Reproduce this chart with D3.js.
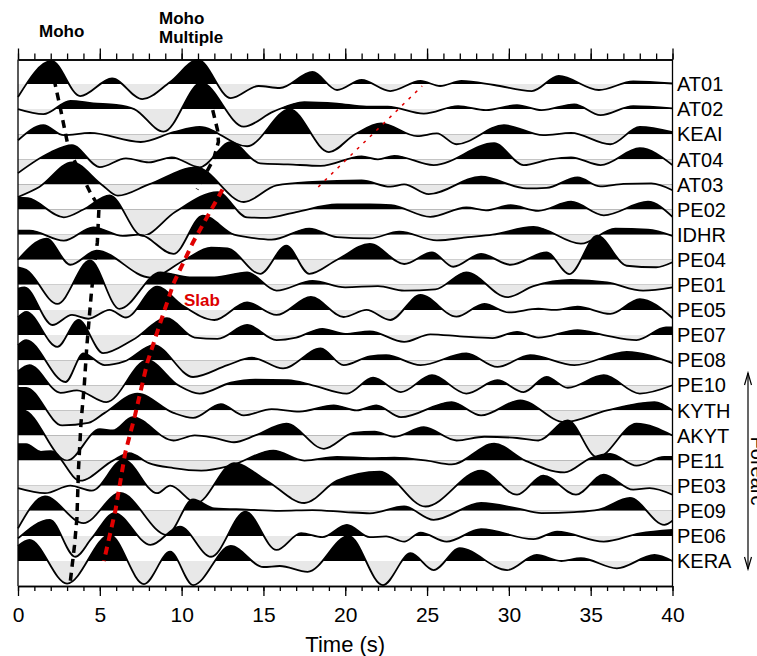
<!DOCTYPE html>
<html>
<head>
<meta charset="utf-8">
<script src="https://cdn.jsdelivr.net/npm/d3@7"></script>
<style>
  body { margin: 0; background: #fff; }
  text { font-family: "Liberation Sans", Arial, sans-serif; }
</style>
</head>
<body>
<div id="chart"></div>
<script>
// Station names, top to bottom
var stations = ["AT01", "AT02", "KEAI", "AT04", "AT03", "PE02", "IDHR", "PE04", "PE01", "PE05",
  "PE07", "PE08", "PE10", "KYTH", "AKYT", "PE11", "PE03", "PE09", "PE06", "KERA"];

// Receiver function traces: [time (s), normalised amplitude] at the peaks and troughs
var at01 = [[0,-0.52],[2.05,0.92],[3.8,-0.48],[5.75,0.22],[7.6,-0.6],[9.3,0.08],[11.0,0.96],[13.0,-0.56],[14.7,-0.08],[16.0,-0.16],[18.0,0.48],[19.5,-0.24],[21.0,0.16],[22.75,-0.28],[24.6,0.12],[25.8,-0.08],[27.1,0.12],[29.1,-0.04],[31.4,-0.28],[33.05,0.32],[35.5,-0.24],[37.6,0.1],[40,0.02]];
var at02 = [[0,0.0],[1.55,-0.2],[3.2,0.33],[4.6,0.23],[6.0,0.17],[7.1,0.0],[8.9,-0.9],[11.2,1.05],[13.8,-0.7],[15.6,-0.1],[17.5,0.28],[19.5,0.22],[21.3,0.1],[22.6,0.1],[24.8,-0.18],[26.9,0.12],[28.6,-0.04],[30.5,0.16],[32.0,-0.04],[34.0,0.19],[35.6,-0.24],[37.6,0.12],[40,0.03]];
var keai = [[0,-0.24],[1.55,0.36],[2.8,-0.04],[4.4,0.05],[7.5,-0.31],[9.5,0.08],[11.1,0.29],[14.0,-0.48],[16.6,1.0],[19.0,-0.71],[20.6,0.0],[22.2,0.43],[24.4,-0.08],[25.6,0.03],[26.8,-0.4],[29.7,0.36],[32.1,-0.04],[33.8,0.05],[36.2,-0.4],[38.0,0.29],[40,0.08]];
var at04 = [[0,-0.55],[2.0,0.28],[3.3,0.56],[5.0,-0.31],[6.6,0.04],[8.0,-0.12],[9.4,0.08],[11.1,-0.32],[13.0,0.68],[14.8,-0.16],[16.5,-0.2],[18.5,-0.26],[21.0,0.12],[22.0,0.0],[23.0,0.14],[25.4,-0.23],[29.1,0.64],[30.9,-0.23],[32.5,0.0],[33.8,0.08],[35.6,-0.23],[38.0,0.44],[40,-0.23]];
var at03 = [[0,-0.5],[1.3,-0.1],[3.3,0.88],[5.1,0.0],[6.1,-0.45],[8.0,0.0],[10.9,0.68],[13.8,-0.7],[15.8,-0.04],[18.0,0.1],[21.0,0.16],[22.75,-0.09],[23.6,0.0],[25.1,-0.39],[28.3,0.31],[31.1,-0.16],[32.3,-0.14],[34.2,0.28],[35.6,-0.08],[37.0,0.02],[38.7,0.04],[40,-0.23]];
var pe02 = [[0,0.47],[0.6,0.45],[2.8,-0.31],[4.0,0.0],[5.6,0.56],[7.6,-1.05],[9.6,-0.1],[12.2,0.69],[14.0,-0.31],[15.2,-0.33],[17.0,-0.1],[19.5,0.2],[21.5,0.2],[22.8,0.17],[25.2,-0.29],[27.4,0.08],[28.6,-0.03],[30.1,0.17],[31.8,-0.05],[33.8,0.31],[35.8,-0.23],[38.5,0.31],[40,-0.29]];
var idhr = [[0,0.16],[0.7,0.16],[2.8,-0.24],[4.6,0.29],[6.4,-0.05],[7.4,0.0],[9.5,-0.77],[11.3,0.76],[13.2,0.0],[14.0,-0.1],[15.5,-0.2],[17.8,0.24],[19.5,-0.1],[21.5,-0.15],[23.3,0.12],[25.6,-0.23],[27.5,-0.1],[29.0,0.0],[31.5,0.31],[34.4,-0.36],[36.5,0.24],[38.5,0.2],[40,-0.05]];
var pe04 = [[0,0.0],[1.75,0.84],[3.2,-0.2],[4.8,0.36],[8.1,-0.71],[10.2,0.0],[11.8,0.48],[12.8,0.45],[14.8,-0.56],[16.4,0.56],[17.8,-0.56],[19.5,0.0],[21.5,0.63],[23.6,-0.17],[25.3,0.29],[26.6,-0.28],[28.3,0.23],[30.1,-0.2],[32.3,0.29],[33.7,-0.57],[35.4,0.96],[37.2,-0.24],[39.0,-0.3],[40,-0.1]];
var pe01 = [[0,0.7],[0.5,0.6],[2.4,-0.76],[4.4,0.97],[6.2,-0.96],[8.7,0.5],[10.5,0.3],[12.0,0.3],[14.0,0.5],[15.8,-0.23],[18.0,0.16],[20.0,-0.1],[22.0,-0.05],[23.6,-0.23],[25.5,-0.18],[27.4,0.5],[29.9,-0.49],[31.5,-0.05],[33.8,0.2],[36.0,0.1],[38.2,-0.23],[40,-0.1]];
var pe05 = [[0,0.85],[0.4,0.9],[2.1,-0.6],[3.3,-0.2],[4.3,-0.35],[5.6,0.0],[6.6,-0.3],[8.5,0.93],[10.0,0.2],[12.0,-0.4],[14.0,0.3],[15.8,-0.2],[17.9,0.52],[19.9,-0.28],[21.3,0.0],[22.75,-0.4],[24.6,0.6],[26.8,-0.27],[28.5,0.24],[30.0,-0.1],[31.8,0.05],[32.8,0.0],[34.2,0.13],[36.2,-0.16],[38.0,0.43],[40,-0.32]];
var pe07 = [[0,0.7],[0.5,0.92],[2.4,-0.47],[3.7,0.6],[5.2,-0.72],[7.0,-0.2],[9.1,0.67],[10.8,-0.1],[12.2,-0.15],[14.0,0.4],[15.8,-0.2],[17.0,-0.1],[18.6,0.25],[20.0,0.05],[21.5,0.15],[23.6,-0.27],[25.2,0.03],[27.0,-0.05],[29.0,-0.12],[30.5,0.13],[31.8,-0.1],[34.2,0.2],[35.8,0.0],[37.8,-0.2],[39.6,0.3],[40,0.3]];
var pe08 = [[0,0.6],[0.5,0.8],[2.9,-0.87],[4.0,0.27],[5.3,-0.2],[6.5,-0.05],[8.3,0.6],[10.7,-0.67],[12.8,-0.2],[14.3,0.1],[16.2,-0.33],[18.5,0.47],[19.9,-0.2],[21.5,0.15],[22.5,0.2],[24.6,-0.2],[27.4,0.27],[29.3,-0.27],[31.3,0.2],[34.0,-0.2],[37.2,0.33],[40,-0.12]];
var pe10 = [[0,0.55],[0.7,0.8],[2.6,-0.3],[3.6,-0.2],[5.4,-0.67],[7.9,1.0],[9.8,0.0],[11.1,-0.33],[13.0,0.1],[14.5,0.22],[16.5,0.2],[18.0,0.0],[20.1,-0.33],[21.7,0.3],[23.4,-0.27],[25.3,0.4],[27.4,-0.33],[29.3,0.2],[30.9,-0.27],[32.3,0.33],[33.6,-0.1],[35.8,0.4],[38.0,-0.33],[40,0.0]];
var kyth = [[0,0.9],[0.5,0.9],[2.7,-0.6],[4.3,-0.5],[5.3,-0.1],[7.3,0.67],[9.5,-0.1],[10.7,-0.3],[12.4,0.25],[13.8,-0.2],[15.5,0.05],[17.2,-0.05],[19.3,0.2],[20.7,0.0],[21.9,0.2],[23.4,-0.27],[26.5,0.33],[28.3,-0.2],[30.7,0.4],[33.4,-0.47],[36.0,0.0],[38.9,0.33],[40,0.0]];
var akyt = [[0,1.0],[0.3,1.0],[3.0,-1.0],[5.0,0.25],[5.8,0.2],[7.0,0.73],[9.5,-0.2],[10.8,0.0],[12.0,-0.1],[13.2,-0.27],[14.5,0.0],[16.4,0.47],[18.7,-0.53],[20.5,0.1],[21.8,0.15],[23.0,-0.05],[24.8,0.33],[26.8,-0.2],[28.5,-0.05],[30.5,-0.1],[31.8,-0.2],[33.6,0.6],[35.4,-0.87],[37.8,0.47],[40,0.0]];
var pe11 = [[0,0.65],[0.5,0.65],[1.4,0.35],[2.0,0.38],[3.8,-0.8],[5.8,0.0],[6.8,0.3],[8.0,-0.1],[9.5,-0.3],[11.2,-0.4],[13.0,-0.2],[15.6,0.4],[17.5,0.0],[19.5,0.15],[21.5,0.1],[23.0,0.12],[25.0,0.0],[26.5,-0.15],[29.1,0.67],[31.0,0.0],[33.4,-0.47],[35.0,0.1],[36.2,0.27],[37.8,-0.2],[39.5,0.15],[40,0.15]];
var pe03 = [[0,-0.1],[1.65,-0.3],[3.2,0.0],[4.5,-0.2],[6.45,1.04],[8.5,-0.3],[9.3,0.0],[10.9,-0.69],[13.2,0.9],[15.2,0.2],[17.5,-0.69],[19.5,0.2],[22.1,0.56],[24.9,-0.83],[28.3,0.6],[30.5,-0.36],[32.1,0.4],[34.1,-0.36],[35.8,0.44],[37.6,-0.16],[38.6,-0.1],[40,-0.36]];
var pe09 = [[0,-0.7],[1.65,0.57],[4.0,-0.49],[6.25,0.71],[9.1,-0.96],[10.7,0.45],[12.0,0.1],[14.0,0.05],[16.0,0.0],[18.0,0.03],[20.0,-0.05],[21.5,-0.1],[23.6,0.17],[25.4,-0.36],[28.3,0.31],[30.5,0.1],[32.0,-0.09],[34.0,-0.05],[35.5,0.05],[37.4,0.51],[39.5,-0.56],[40,-0.4]];
var pe06 = [[0,-0.1],[1.95,0.64],[3.5,-0.83],[4.5,-0.1],[5.9,0.91],[8.1,-0.36],[9.9,0.37],[11.8,-0.83],[13.9,0.97],[15.8,-0.56],[17.3,0.11],[18.6,-0.05],[20.1,0.44],[21.5,-0.05],[22.5,-0.02],[23.6,-0.23],[24.6,0.13],[26.2,-0.23],[28.3,0.27],[31.5,-0.13],[32.95,0.17],[35.8,-0.23],[38.0,0.1],[40,0.24]];
var kera = [[0,0.6],[0.7,0.84],[3.0,-0.9],[5.6,1.04],[7.7,-0.92],[9.3,0.37],[10.7,-0.96],[13.0,0.6],[15.0,-0.24],[16.0,-0.2],[17.7,-0.43],[20.2,1.0],[22.3,-0.96],[24.0,0.31],[25.4,-0.36],[27.0,0.51],[29.9,-0.36],[31.7,0.24],[33.2,0.0],[34.4,0.11],[36.6,-0.29],[38.9,0.24],[40,0.0]];

var traces = [at01, at02, keai, at04, at03, pe02, idhr, pe04, pe01, pe05,
  pe07, pe08, pe10, kyth, akyt, pe11, pe03, pe09, pe06, kera];

// Picked phases: [time (s), station row]
var mohoPicks = [[2.2,-0.2],[2.6,1.0],[3.1,2.6],[4.4,4.3],[4.95,4.9],[4.85,6.3],[4.5,8.2],[4.2,10.5],[4.05,12.0],[3.85,13.5],[3.7,15.3],[3.6,17.3],[3.45,18.4],[3.2,19.8]];
var multiplePicks = [[11.7,0.5],[12.2,1.85],[12.25,2.3],[11.95,3.0],[10.95,4.2]];
var slabPicks = [[12.5,4.2],[10.7,6.3],[9.5,7.95],[8.7,9.5],[7.9,11.1],[7.15,13.2],[6.55,14.7],[5.95,17.0],[5.25,19.0]];
var dippingPicks = [[18.35,4.1],[24.7,0.08]];

var timeTicks = [0, 5, 10, 15, 20, 25, 30, 35, 40];

// SVG area
var svgWidth = 757;
var svgHeight = 656;
var plot = { left: 18, right: 672.5, top: 59.5, bottom: 586 };

var svg = d3.select("#chart")
  .append("svg")
  .attr("width", svgWidth)
  .attr("height", svgHeight);

// Scales
var xScale = d3.scaleLinear().domain([0, 40]).range([plot.left, plot.right]);
var rowScale = d3.scaleLinear().domain([0, stations.length - 1]).range([84, 561]);
var ampScale = d3.scaleLinear().domain([-1, 1]).range([25.1, -25.1]);

var defs = svg.append("defs");

// Draw each trace: grey below the baseline, black above
traces.forEach(function(trace, i) {
  var base = rowScale(i);

  defs.append("clipPath").attr("id", "pos" + i)
    .append("rect").attr("x", 0).attr("y", 0).attr("width", svgWidth).attr("height", base);
  defs.append("clipPath").attr("id", "neg" + i)
    .append("rect").attr("x", 0).attr("y", base).attr("width", svgWidth).attr("height", svgHeight - base);

  var area = d3.area()
    .x(d => xScale(d[0]))
    .y0(base)
    .y1(d => base + ampScale(d[1]))
    .curve(d3.curveMonotoneX);

  var g = svg.append("g").attr("class", "trace");
  g.append("path").datum(trace)
    .attr("d", area)
    .attr("fill", "#e8e8e8")
    .attr("clip-path", "url(#neg" + i + ")");
  g.append("path").datum(trace)
    .attr("d", area)
    .attr("fill", "#000")
    .attr("clip-path", "url(#pos" + i + ")");
  g.append("path").datum(trace)
    .attr("d", area.lineY1())
    .attr("fill", "none")
    .attr("stroke", "#000")
    .attr("stroke-width", 1.8);
});

// Picked phase lines
var pickLine = d3.line()
  .x(d => xScale(d[0]))
  .y(d => rowScale(d[1]));

svg.append("path").datum(mohoPicks)
  .attr("d", pickLine).attr("fill", "none")
  .attr("stroke", "#000").attr("stroke-width", 3.5).attr("stroke-dasharray", "8,6");
svg.append("path").datum(multiplePicks)
  .attr("d", pickLine).attr("fill", "none")
  .attr("stroke", "#000").attr("stroke-width", 3.5).attr("stroke-dasharray", "8,6");
svg.append("path").datum(slabPicks)
  .attr("d", pickLine).attr("fill", "none")
  .attr("stroke", "#e00000").attr("stroke-width", 4).attr("stroke-dasharray", "8,6");
svg.append("path").datum(dippingPicks)
  .attr("d", pickLine).attr("fill", "none")
  .attr("stroke", "#e00000").attr("stroke-width", 1.5).attr("stroke-dasharray", "3,6");

svg.append("text")
  .attr("x", 184).attr("y", 306)
  .attr("fill", "#dd0000").attr("font-weight", "bold").attr("font-size", "17px")
  .text("Slab");

// Axes
var axisStyle = function(g) {
  g.select(".domain").attr("stroke-width", 1.3);
  g.selectAll(".tick line").attr("stroke-width", 1.3);
  g.attr("font-family", "Liberation Sans, Arial, sans-serif");
};

svg.append("g")
  .attr("transform", `translate(0, ${plot.bottom})`)
  .call(d3.axisBottom(xScale).ticks(40).tickSize(5).tickFormat("").tickSizeOuter(0))
  .call(axisStyle);
svg.append("g")
  .attr("transform", `translate(0, ${plot.bottom})`)
  .call(d3.axisBottom(xScale).tickValues(timeTicks).tickSize(10).tickPadding(11).tickSizeOuter(0))
  .call(axisStyle)
  .attr("font-size", 21);

svg.append("g")
  .attr("transform", `translate(0, ${plot.top})`)
  .call(d3.axisTop(xScale).ticks(40).tickSize(6).tickFormat("").tickSizeOuter(0))
  .call(axisStyle);
svg.append("g")
  .attr("transform", `translate(0, ${plot.top})`)
  .call(d3.axisTop(xScale).tickValues(timeTicks).tickSize(11).tickFormat("").tickSizeOuter(0))
  .call(axisStyle);

// Frame sides
svg.append("line")
  .attr("x1", plot.left).attr("x2", plot.left).attr("y1", plot.top).attr("y2", plot.bottom)
  .attr("stroke", "#000").attr("stroke-width", 1.3);
svg.append("line")
  .attr("x1", plot.right).attr("x2", plot.right).attr("y1", plot.top).attr("y2", plot.bottom)
  .attr("stroke", "#000").attr("stroke-width", 1.3);

// Station labels
svg.selectAll(".station")
  .data(stations)
  .enter()
  .append("text")
  .attr("class", "station")
  .attr("x", plot.right + 4.5)
  .attr("y", (d, i) => rowScale(i))
  .attr("dy", "0.36em")
  .attr("font-size", "20px")
  .text(d => d);

// Axis title
svg.append("text")
  .attr("x", (plot.left + plot.right) / 2)
  .attr("y", 652)
  .attr("text-anchor", "middle")
  .attr("font-size", "22px")
  .text("Time (s)");

// Phase names above the plot
svg.append("text").attr("x", 39).attr("y", 37)
  .attr("font-weight", "bold").attr("font-size", "17px").text("Moho");
svg.append("text").attr("x", 159).attr("y", 24)
  .attr("font-weight", "bold").attr("font-size", "17px").text("Moho");
svg.append("text").attr("x", 159).attr("y", 43)
  .attr("font-weight", "bold").attr("font-size", "17px").text("Multiple");

// Forearc arrow on the right (label runs past the page edge, as in the original)
var arrowX = 748;
svg.append("line")
  .attr("x1", arrowX).attr("x2", arrowX).attr("y1", 373).attr("y2", 569)
  .attr("stroke", "#000").attr("stroke-width", 1.2);
svg.append("path")
  .attr("d", `M${arrowX - 3.5},385 L${arrowX},373 L${arrowX + 3.5},385 M${arrowX - 3.5},557 L${arrowX},569 L${arrowX + 3.5},557`)
  .attr("fill", "none").attr("stroke", "#000").attr("stroke-width", 1.2);
svg.append("text")
  .attr("transform", `translate(${arrowX + 3}, 471) rotate(90)`)
  .attr("text-anchor", "middle")
  .attr("font-size", "20px")
  .text("Forearc");
</script>
</body>
</html>
